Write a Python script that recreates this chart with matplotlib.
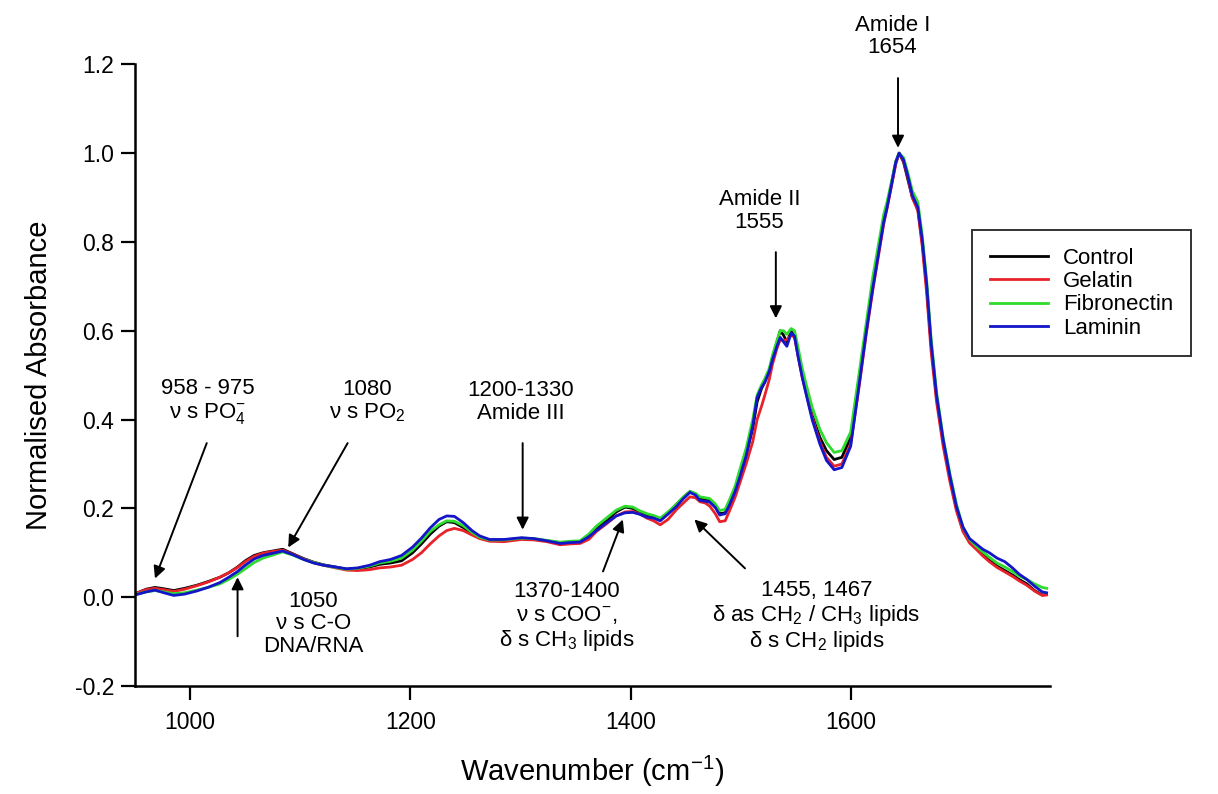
import matplotlib.pyplot as plt

plt.rcParams['font.family'] = ['Liberation Sans', 'DejaVu Sans']
plt.rcParams['mathtext.fontset'] = 'custom'
plt.rcParams['mathtext.rm'] = 'Liberation Sans'
plt.rcParams['mathtext.it'] = 'Liberation Sans'
plt.rcParams['mathtext.default'] = 'rm'

# wavenumber grid (cm-1)
wn = [950, 960, 968, 976, 985, 995, 1006, 1016, 1027, 1035,
      1043, 1050, 1058, 1066, 1075, 1084, 1093, 1103, 1112, 1121,
      1132, 1142, 1152, 1163, 1172, 1182, 1192, 1202, 1210, 1218,
      1226, 1233, 1240, 1248, 1256, 1263, 1272, 1285, 1301, 1312,
      1324, 1336, 1345, 1354, 1362, 1369, 1378, 1387, 1395, 1402,
      1408, 1415, 1421, 1427, 1434, 1442, 1448, 1454, 1459, 1463,
      1468, 1472, 1477, 1481, 1486, 1490, 1495, 1499, 1505, 1511,
      1515, 1519, 1522, 1526, 1529, 1533, 1536, 1539, 1542, 1546,
      1549, 1552, 1556, 1560, 1565, 1572, 1578, 1585, 1592, 1600,
      1608, 1614, 1620, 1626, 1630, 1633, 1637, 1641, 1644, 1648,
      1652, 1656, 1661, 1665, 1669, 1673, 1678, 1684, 1690, 1696,
      1702, 1708, 1714, 1720, 1726, 1733, 1740, 1747, 1753, 1760,
      1767, 1774, 1778]

control = [0.008, 0.018, 0.022, 0.019, 0.015, 0.020, 0.027, 0.035, 0.045, 0.055,
           0.068, 0.082, 0.094, 0.100, 0.104, 0.108, 0.098, 0.087, 0.079, 0.073,
           0.068, 0.063, 0.064, 0.068, 0.074, 0.077, 0.082, 0.100, 0.120, 0.142,
           0.160, 0.170, 0.168, 0.157, 0.143, 0.133, 0.128, 0.128, 0.132, 0.131,
           0.127, 0.122, 0.124, 0.125, 0.138, 0.155, 0.172, 0.192, 0.203, 0.200,
           0.192, 0.185, 0.182, 0.175, 0.190, 0.210, 0.225, 0.238, 0.232, 0.222,
           0.220, 0.218, 0.205, 0.188, 0.190, 0.210, 0.240, 0.270, 0.320, 0.380,
           0.440, 0.470, 0.485, 0.510, 0.540, 0.575, 0.600, 0.590, 0.575, 0.598,
           0.590, 0.550, 0.500, 0.460, 0.410, 0.360, 0.330, 0.310, 0.315, 0.360,
           0.500, 0.600, 0.700, 0.790, 0.850, 0.880, 0.930, 0.980, 1.000, 0.980,
           0.940, 0.900, 0.875, 0.800, 0.700, 0.570, 0.450, 0.350, 0.270, 0.200,
           0.150, 0.125, 0.112, 0.097, 0.083, 0.070, 0.060, 0.050, 0.040, 0.030,
           0.015, 0.005, 0.006]

gelatin = [0.008, 0.017, 0.020, 0.017, 0.013, 0.018, 0.026, 0.034, 0.045, 0.055,
           0.067, 0.080, 0.092, 0.099, 0.103, 0.106, 0.097, 0.086, 0.078, 0.072,
           0.066, 0.061, 0.060, 0.062, 0.066, 0.068, 0.072, 0.085, 0.100, 0.120,
           0.138, 0.150, 0.155, 0.150, 0.140, 0.132, 0.126, 0.125, 0.130, 0.129,
           0.125, 0.118, 0.120, 0.121, 0.130, 0.148, 0.165, 0.183, 0.192, 0.193,
           0.188, 0.178, 0.172, 0.163, 0.175, 0.198, 0.212, 0.226, 0.224, 0.215,
           0.212, 0.205, 0.188, 0.170, 0.172, 0.195, 0.225, 0.255, 0.300, 0.350,
           0.400, 0.430, 0.455, 0.490, 0.525, 0.560, 0.580, 0.578, 0.580, 0.590,
           0.585, 0.545, 0.495, 0.455, 0.405, 0.350, 0.315, 0.295, 0.300, 0.345,
           0.480, 0.590, 0.690, 0.780, 0.840, 0.875, 0.925, 0.975, 1.000, 0.982,
           0.945, 0.900, 0.870, 0.790, 0.685, 0.555, 0.440, 0.340, 0.262, 0.195,
           0.148, 0.122, 0.108, 0.093, 0.080, 0.067, 0.057, 0.047, 0.037, 0.027,
           0.014, 0.004, 0.005]

fibronectin = [0.006, 0.012, 0.015, 0.012, 0.008, 0.010, 0.016, 0.022, 0.030, 0.040,
               0.052, 0.064, 0.078, 0.088, 0.095, 0.102, 0.095, 0.085, 0.078, 0.072,
               0.067, 0.063, 0.065, 0.070, 0.077, 0.081, 0.088, 0.106, 0.126, 0.148,
               0.163, 0.172, 0.171, 0.161, 0.146, 0.135, 0.129, 0.129, 0.133, 0.132,
               0.128, 0.124, 0.126, 0.127, 0.142, 0.160, 0.178, 0.196, 0.205, 0.203,
               0.195, 0.188, 0.184, 0.178, 0.192, 0.210, 0.226, 0.238, 0.234, 0.226,
               0.224, 0.222, 0.210, 0.195, 0.198, 0.220, 0.250, 0.285, 0.335, 0.400,
               0.455, 0.478, 0.492, 0.515, 0.545, 0.578, 0.600, 0.600, 0.592, 0.605,
               0.600, 0.565, 0.515, 0.475, 0.428, 0.378, 0.348, 0.326, 0.330, 0.372,
               0.510, 0.615, 0.720, 0.805, 0.862, 0.890, 0.935, 0.982, 1.000, 0.990,
               0.955, 0.915, 0.890, 0.815, 0.715, 0.585, 0.462, 0.360, 0.280, 0.210,
               0.158, 0.130, 0.115, 0.102, 0.090, 0.077, 0.068, 0.058, 0.048, 0.040,
               0.030, 0.022, 0.020]

laminin = [0.005, 0.012, 0.016, 0.010, 0.004, 0.007, 0.014, 0.022, 0.033, 0.045,
           0.058, 0.072, 0.086, 0.094, 0.099, 0.104, 0.096, 0.085, 0.077, 0.072,
           0.068, 0.064, 0.066, 0.072, 0.080, 0.085, 0.094, 0.113, 0.133, 0.156,
           0.175, 0.183, 0.182, 0.168, 0.150, 0.138, 0.130, 0.130, 0.134, 0.132,
           0.127, 0.121, 0.123, 0.124, 0.136, 0.150, 0.167, 0.183, 0.190, 0.191,
           0.187, 0.180, 0.178, 0.172, 0.187, 0.205, 0.222, 0.236, 0.230, 0.218,
           0.216, 0.214, 0.202, 0.185, 0.188, 0.208, 0.238, 0.268, 0.318, 0.385,
           0.450, 0.472, 0.484, 0.508, 0.535, 0.565, 0.585, 0.575, 0.565, 0.595,
           0.588, 0.545, 0.495, 0.452, 0.400, 0.345, 0.308, 0.287, 0.292, 0.340,
           0.485, 0.595, 0.695, 0.785, 0.845, 0.877, 0.928, 0.980, 1.000, 0.985,
           0.948, 0.905, 0.878, 0.805, 0.705, 0.575, 0.455, 0.355, 0.275, 0.205,
           0.158, 0.132, 0.120, 0.108, 0.100, 0.088, 0.080, 0.066, 0.052, 0.040,
           0.025, 0.012, 0.010]

series = [("Control", control, "black"),
          ("Gelatin", gelatin, "#e8222a"),
          ("Fibronectin", fibronectin, "#2edc2e"),
          ("Laminin", laminin, "#1414c8")]

fig = plt.figure(figsize=(12.18, 7.94), dpi=100)
ax = fig.add_axes([0.111, 0.136, 0.751, 0.783])

for name, vals, col in series:
    ax.plot(wn, vals, color=col, lw=2.0, label=name)

ax.set_xlim(950, 1781)
ax.set_ylim(-0.2, 1.2)
ax.set_xticks([1000, 1200, 1400, 1600])
ax.set_yticks([-0.2, 0.0, 0.2, 0.4, 0.6, 0.8, 1.0, 1.2])
ax.set_yticklabels(["-0.2", "0.0", "0.2", "0.4", "0.6", "0.8", "1.0", "1.2"])
ax.tick_params(direction='out', length=10, width=1.6, labelsize=16.5, pad=5)
ax.tick_params(axis='x', pad=8)
for s in ['top', 'right']:
    ax.spines[s].set_visible(False)
for s in ['left', 'bottom']:
    ax.spines[s].set_linewidth(1.8)

ax.set_xlabel("Wavenumber (cm$^{-1}$)", fontsize=21, labelpad=14)
ax.set_ylabel("Normalised Absorbance", fontsize=21, labelpad=16)

# annotations: text at (tx, ty), arrow from tail to head
ann_fs = 16
arrow = dict(arrowstyle='-|>', color='black', lw=1.4, mutation_scale=18,
             shrinkA=0, shrinkB=0)


def note(txt, tx, ty, tail, head):
    ax.text(tx, ty, txt, ha='center', va='center', fontsize=ann_fs,
            linespacing=1.1)
    ax.annotate("", xy=head, xytext=tail, arrowprops=arrow)


note("958 - 975\nν s PO$_4^{-}$", 1016, 0.44, (1015, 0.347), (968, 0.042))
note("1080\nν s PO$_2$", 1161, 0.44, (1143, 0.347), (1089, 0.112))
note("1200-1330\nAmide III", 1300, 0.44, (1302, 0.347), (1302, 0.152))
note("1050\nν s C-O\nDNA/RNA", 1112, -0.06, (1043, -0.088), (1043, 0.045))
note("1370-1400\nν s COO$^{-}$,\nδ s CH$_3$ lipids", 1342, -0.045,
     (1375, 0.058), (1393, 0.175))
note("1455, 1467\nδ as CH$_2$ / CH$_3$ lipids\nδ s CH$_2$ lipids",
     1569, -0.045, (1504, 0.065), (1458, 0.175))
note("Amide II\n1555", 1517, 0.87, (1532, 0.777), (1532, 0.628))
note("Amide I\n1654", 1638, 1.263, (1643, 1.169), (1643, 1.012))

leg = fig.legend(loc='upper left', bbox_to_anchor=(0.798, 0.71), fontsize=16,
                 frameon=True, fancybox=False, edgecolor='black',
                 handlelength=2.6, borderpad=0.8, labelspacing=0.1,
                 handletextpad=0.7, borderaxespad=0)
leg.get_frame().set_linewidth(1.4)

fig.savefig("out.png", dpi=100)
